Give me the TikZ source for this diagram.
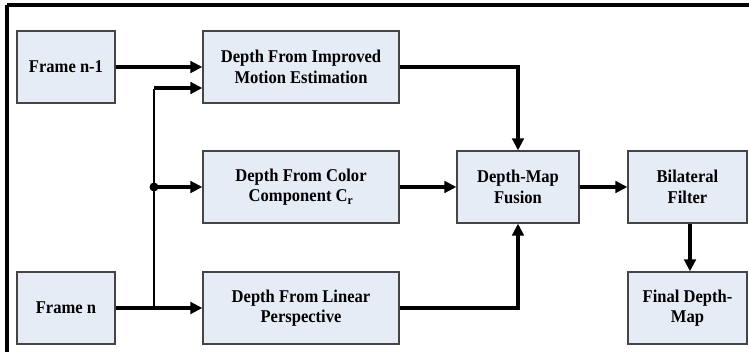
\documentclass[tikz,border=0pt]{standalone}
\usepackage{fontspec}
\setmainfont{Liberation Serif}[FakeStretch=0.92]
\usetikzlibrary{arrows.meta}
\definecolor{boxfill}{HTML}{E6ECF6}
\definecolor{boxline}{HTML}{454545}
\tikzset{
  block/.style={draw=boxline, line width=1.2pt, fill=boxfill, rectangle,
    align=center, inner sep=2pt,
    font=\bfseries\fontsize{18}{20.5}\selectfont},
  flow/.style={line width=3.2pt, -{Triangle[length=12pt,width=11.5pt]}},
  branch/.style={line width=2.4pt},
  framel/.style={line width=3.2pt}
}
\begin{document}
\begin{tikzpicture}[x=1pt,y=-1pt]
\useasboundingbox (0,0) rectangle (749,352);
% outer frame (top and left edges only)
\draw[framel] (7,5) -- (749,5);
\draw[framel] (7,5) -- (7,352);

% processing blocks
\node[block, minimum width=98pt, minimum height=72pt] (fprev) at (66,67) {Frame n-1};
\node[block, minimum width=98pt, minimum height=72pt] (fcur) at (66,308) {Frame n};
\node[block, minimum width=196pt, minimum height=72pt] (motion) at (301,67) {Depth From Improved\\Motion Estimation};
\node[block, minimum width=196pt, minimum height=72pt] (color) at (301,187) {Depth From Color\\Component C\textsubscript{r}};
\node[block, minimum width=196pt, minimum height=72pt] (persp) at (301,308) {Depth From Linear\\Perspective};
\node[block, minimum width=122pt, minimum height=72pt] (fusion) at (518,187) {Depth-Map\\Fusion};
\node[block, minimum width=119pt, minimum height=72pt] (bilat) at (687.5,187) {Bilateral\\Filter};
\node[block, minimum width=119pt, minimum height=72pt] (final) at (687.5,308) {Final Depth-\\Map};

% branch points
\coordinate (split) at (154,308);
\coordinate (tap) at (154,187);
\coordinate (top) at (154,88);
\fill (tap) circle (4.5pt);

% connectors
\draw[flow] (fprev.east) -- (fprev.east -| motion.west);
\draw[flow] (fcur.east) -- (persp.west);
\draw[branch] (split) -- ([yshift=-1.2pt]top);
\draw[flow] (top) -- (top -| motion.west);
\draw[flow] (tap) -- (color.west);
\draw[flow] (motion.east) -| (fusion.north);
\draw[flow] (color.east) -- (fusion.west);
\draw[flow] (persp.east) -| (fusion.south);
\draw[flow] (fusion.east) -- (bilat.west);
\draw[flow] ([xshift=2.5pt]bilat.south) -- ([xshift=2.5pt]final.north);
\end{tikzpicture}
\end{document}
